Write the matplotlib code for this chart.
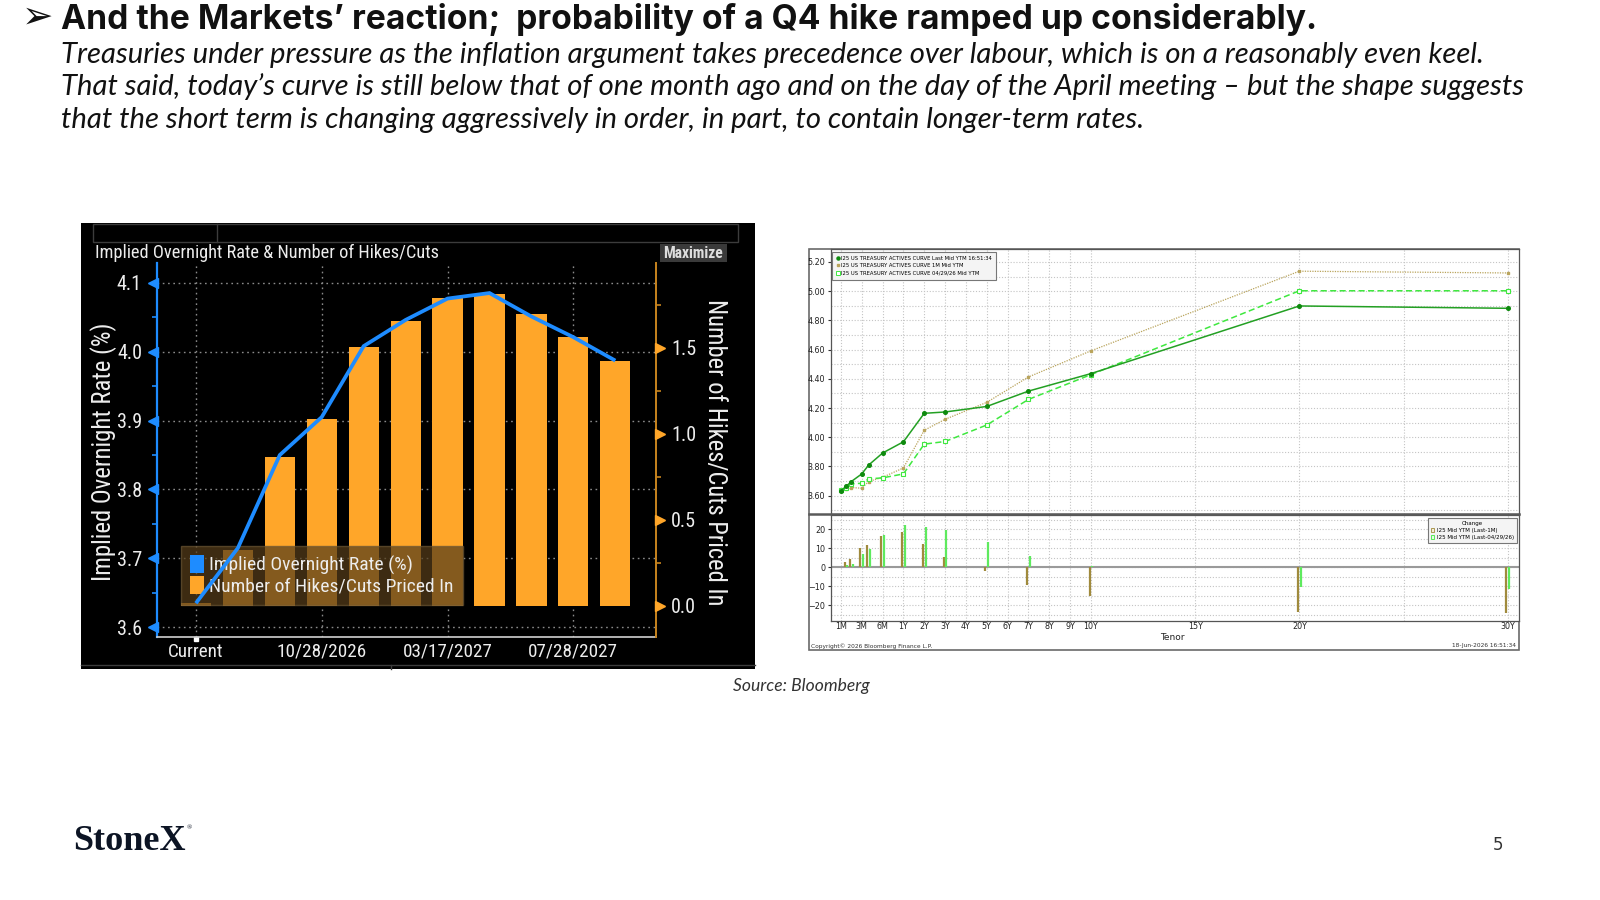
import numpy as np
import matplotlib
matplotlib.use("Agg")
import matplotlib.pyplot as plt
from matplotlib import font_manager as fm
from matplotlib.patches import Rectangle, Patch
from matplotlib.lines import Line2D
from matplotlib.transforms import offset_copy
from matplotlib.ticker import FixedLocator, MultipleLocator, FuncFormatter

# ---------------- data: left chart (implied policy path) ----------------
meetings = ["Current", "07/29/2026", "09/16/2026", "10/28/2026", "12/09/2026",
            "01/27/2027", "03/17/2027", "04/28/2027", "06/09/2027", "07/28/2027",
            "09/22/2027"]
meeting_tick_idx = [0, 3, 6, 9]
implied_rate = [3.635, 3.715, 3.850, 3.905, 4.008, 4.046, 4.077, 4.085, 4.051, 4.021, 3.987]
hikes_priced = [0.015, 0.324, 0.863, 1.087, 1.502, 1.655, 1.790, 1.814, 1.698, 1.560, 1.421]
left_yticks = [3.6, 3.7, 3.8, 3.9, 4.0, 4.1]
right_yticks = [0.0, 0.5, 1.0, 1.5]

# ---------------- data: right chart (UST curve) ----------------
tenor_years = [1/12, 1.5/12, 2/12, 3/12, 4/12, 6/12, 1, 2, 3, 5, 7, 10, 20, 30]
yld_last = [3.635, 3.663, 3.697, 3.749, 3.810, 3.892, 3.969, 4.164, 4.173, 4.211, 4.316, 4.436, 4.899, 4.883]
yld_1m = [3.637, 3.643, 3.656, 3.651, 3.697, 3.726, 3.790, 4.048, 4.123, 4.239, 4.413, 4.592, 5.137, 5.125]
yld_apr = [3.636, 3.653, 3.681, 3.685, 3.715, 3.722, 3.749, 3.953, 3.971, 4.084, 4.259, 4.429, 5.003, 5.003]
chg_vs_1m = [0, 2.4, 4.1, 10.0, 11.4, 16.6, 18.3, 11.9, 5.2, -1.9, -9.4, -15.2, -23.5, -24.0]
chg_vs_apr = [0, 1.0, 1.7, 6.7, 9.3, 17.1, 22.2, 20.9, 19.7, 13.1, 6.0, 0.6, -10.7, -11.8]
tenor_tick_years = [1/12, 0.25, 0.5, 1, 2, 3, 4, 5, 6, 7, 8, 9, 10, 15, 20, 30]
tenor_tick_labels = ["1M", "3M", "6M", "1Y", "2Y", "3Y", "4Y", "5Y", "6Y", "7Y", "8Y", "9Y",
                     "10Y", "15Y", "20Y", "30Y"]
curve_yticks = [3.6, 3.8, 4.0, 4.2, 4.4, 4.6, 4.8, 5.0, 5.2]
chg_yticks = [-20, -10, 0, 10, 20]

# ---------------- texts ----------------
title = "And the Markets\u2019 reaction;  probability of a Q4 hike ramped up considerably."
sub_lines = [
    "Treasuries under pressure as the inflation argument takes precedence over labour, which is on a reasonably even keel.",
    "That said, today\u2019s curve is still below that of one month ago and on the day of the April meeting \u2013 but the shape suggests",
    "that the short term is changing aggressively in order, in part, to contain longer-term rates.",
]

# ---------------- fonts ----------------
names = {f.name for f in fm.fontManager.ttflist}
def pick(*cands):
    for c in cands:
        if c in names:
            return c
    return "DejaVu Sans"
BB = pick("Liberation Sans Narrow", "Roboto Condensed", "DejaVu Sans")
TITLE_F = pick("Inter", "Roboto", "DejaVu Sans")
BODY_F = pick("Lato", "Open Sans", "Noto Sans", "DejaVu Sans")
SERIF_F = pick("Liberation Serif", "DejaVu Serif")
SMALL_F = "DejaVu Sans"

W, H = 1600, 900
fig = plt.figure(figsize=(16, 9), dpi=100)
fig.patch.set_facecolor("white")
R = fig.canvas.get_renderer()

def rect(x0, y0, x1, y1):
    return [x0 / W, 1 - y1 / H, (x1 - x0) / W, (y1 - y0) / H]

def txt(x, y, s, **kw):
    return fig.text(x / W, 1 - y / H, s, **kw)

def fit_w(t, w):
    bb = t.get_window_extent(R)
    t.set_fontsize(t.get_fontsize() * w / bb.width)
    return t.get_fontsize()

def fit_h(t, h):
    bb = t.get_window_extent(R)
    t.set_fontsize(t.get_fontsize() * h / bb.height)
    return t.get_fontsize()

# ---------------- header ----------------
txt(37.5, 18, "\u27a2", fontsize=27, ha="center", va="center", color="#111111",
    family="DejaVu Sans")
t = txt(61, 28.5, title, fontsize=24, fontweight="bold", family=TITLE_F,
        ha="left", va="baseline", color="#111111")
fit_w(t, 1257)
s2 = txt(61, 95.5, sub_lines[1], fontsize=18, style="italic", family=BODY_F,
         ha="left", va="baseline", color="#111111")
fs_sub = fit_w(s2, 1466)
txt(61, 62.5, sub_lines[0], fontsize=fs_sub, style="italic", family=BODY_F,
    ha="left", va="baseline", color="#111111")
txt(61, 128, sub_lines[2], fontsize=fs_sub, style="italic", family=BODY_F,
    ha="left", va="baseline", color="#111111")

# ---------------- left chart: Bloomberg panel ----------------
BLUE = "#1E8CFF"
ORANGE = "#FFA629"
WHITE = "#EDEDED"
fig.add_artist(Rectangle((81 / W, 1 - 669 / H), (755 - 81) / W, (669 - 223) / H,
                         transform=fig.transFigure, facecolor="black",
                         edgecolor="none", zorder=0))
fig.add_artist(Rectangle((93 / W, 1 - 242 / H), (738 - 93) / W, (242 - 224) / H,
                         transform=fig.transFigure, facecolor="none",
                         edgecolor="#3c3c3c", lw=1.0, zorder=1))
fig.add_artist(Line2D([217 / W, 217 / W], [1 - 224 / H, 1 - 242 / H],
                      transform=fig.transFigure, color="#3c3c3c", lw=1.0, zorder=1))
fig.add_artist(Line2D([81 / W, 755 / W], [1 - 665 / H, 1 - 665 / H],
                      transform=fig.transFigure, color="#3c3c3c", lw=1.0, zorder=1))
fig.add_artist(Line2D([391 / W, 391 / W], [1 - 665 / H, 1 - 669 / H],
                      transform=fig.transFigure, color="#3c3c3c", lw=1.0, zorder=1))

ct = txt(95, 253, "Implied Overnight Rate & Number of Hikes/Cuts", fontsize=11,
         family=BB, color=WHITE, ha="left", va="center", zorder=3)
fit_w(ct, 343)
fig.add_artist(Rectangle((660 / W, 1 - 262 / H), (727 - 660) / W, (262 - 244) / H,
                         transform=fig.transFigure, facecolor="#3a3a3a",
                         edgecolor="none", zorder=2))
mt = txt(693.5, 253, "Maximize", fontsize=9, family=BB, fontweight="bold",
         color="#dddddd", ha="center", va="center", zorder=3)
fit_w(mt, 60)

x_idx = np.arange(len(meetings))
ax = fig.add_axes(rect(157.3, 263, 656, 637))
ax.set_facecolor("black")
ax2 = ax.twinx()
ax2.patch.set_visible(False)

ax2.bar(x_idx, hikes_priced, width=0.72, color=ORANGE, zorder=2)
ax2.plot(x_idx, implied_rate, color=BLUE, lw=2.7, transform=ax.transData,
         solid_capstyle="butt", solid_joinstyle="miter", zorder=6)

ax.set_xlim(-0.92, 10.97)
ax.set_ylim(3.586, 4.1286)
ax2.set_ylim(-0.182, 1.992)

ax.set_yticks(left_yticks)
ax.set_yticklabels([f"{v:.1f}" for v in left_yticks])
ax.yaxis.set_minor_locator(MultipleLocator(0.05))
ax2.set_yticks(right_yticks)
ax2.set_yticklabels([f"{v:.1f}" for v in right_yticks])
ax2.yaxis.set_minor_locator(MultipleLocator(0.25))
ax.set_xticks([x_idx[i] for i in meeting_tick_idx])
ax.set_xticklabels([meetings[i] for i in meeting_tick_idx])

for a in (ax, ax2):
    for sp in a.spines.values():
        sp.set_visible(False)
ax.spines["left"].set_visible(True)
ax.spines["left"].set_color(BLUE)
ax.spines["left"].set_linewidth(1.6)
ax.spines["bottom"].set_visible(True)
ax.spines["bottom"].set_color("#d0d0d0")
ax.spines["bottom"].set_linewidth(1.2)
ax2.spines["right"].set_visible(True)
ax2.spines["right"].set_color("#C8841E")
ax2.spines["right"].set_linewidth(1.4)

ax.tick_params(axis="y", which="major", length=0, pad=11, labelsize=14.5,
               labelcolor=WHITE)
ax.tick_params(axis="y", which="minor", length=3.5, width=1.2, color=BLUE, direction="out")
ax2.tick_params(axis="y", which="major", length=0, pad=11, labelsize=14.5,
                labelcolor=WHITE)
ax2.tick_params(axis="y", which="minor", length=3.5, width=1.2, color="#C8841E",
                direction="out")
ax.tick_params(axis="x", length=0, pad=4, labelsize=13.8, labelcolor=WHITE)
for lab in ax.get_yticklabels() + ax2.get_yticklabels() + ax.get_xticklabels():
    lab.set_family(BB)

# tick arrows
ax.plot(np.zeros(len(left_yticks)), left_yticks, ls="none", marker="<", ms=6.5,
        color=BLUE, clip_on=False, zorder=7,
        transform=offset_copy(ax.get_yaxis_transform(), fig=fig, x=-4, units="dots"))
ax2.plot(np.ones(len(right_yticks)), right_yticks, ls="none", marker=">", ms=6.5,
         color=ORANGE, clip_on=False, zorder=7,
         transform=offset_copy(ax2.get_yaxis_transform(), fig=fig, x=4, units="dots"))
ax.plot([0], [0], ls="none", marker="s", ms=2.5, color="white", clip_on=False,
        transform=offset_copy(ax.get_xaxis_transform(), fig=fig, x=0, y=-2, units="dots"))

ax.grid(True, which="major", axis="both", color="#8a8a8a", lw=1.0,
        linestyle=(0, (1.2, 2.6)))
ax.set_axisbelow(True)

# legend
tmp = txt(0, 0, "Implied Overnight Rate (%)", fontsize=10, family=BB)
lf = fit_w(tmp, 202)
tmp.remove()
leg_handles = [Patch(facecolor=BLUE, edgecolor="none", label="Implied Overnight Rate (%)"),
               Patch(facecolor=ORANGE, edgecolor="none", label="Number of Hikes/Cuts Priced In")]
leg = ax2.legend(handles=leg_handles, loc="upper left",
                 bbox_to_anchor=(181 / W, 1 - 546 / H), bbox_transform=fig.transFigure,
                 borderaxespad=0, frameon=True, fancybox=False, framealpha=0.72,
                 facecolor="#553D1A", edgecolor="#6b5634",
                 prop=dict(family=BB, size=lf), handlelength=0.75, handleheight=1.05,
                 handletextpad=0.25, borderpad=0.45, labelspacing=0.08)
for tt in leg.get_texts():
    tt.set_color(WHITE)
leg.set_zorder(5)

yl = txt(104, 452, "Implied Overnight Rate (%)", fontsize=13, family=BB, color=WHITE,
         rotation=90, ha="center", va="center")
fit_h(yl, 257)
yr = txt(715, 452, "Number of Hikes/Cuts Priced In", fontsize=13, family=BB, color=WHITE,
         rotation=270, ha="center", va="center")
fit_h(yr, 305)

# ---------------- right chart: UST curve ----------------
fig.add_artist(Rectangle((809 / W, 1 - 650 / H), (1519 - 809) / W, (650 - 249) / H,
                         transform=fig.transFigure, facecolor="white",
                         edgecolor="#6a6a6a", lw=1.2, zorder=0))

_t = np.array([0.0, 1 / 12, 0.25, 0.5, 1.0, 200.0])
_s = np.array([-4.0, -3.0, -2.0, -1.0, 0.0, 199.0])
def fwd(v):
    return np.interp(np.asarray(v, dtype=float), _t, _s)
def inv(v):
    return np.interp(np.asarray(v, dtype=float), _s, _t)

axT = fig.add_axes(rect(830.7, 249, 1519, 513.5))
axB = fig.add_axes(rect(830.7, 515, 1519, 621))
for a in (axT, axB):
    a.set_xscale("function", functions=(fwd, inv))
    a.set_xlim(float(inv(-3.49)), float(inv(29.54)))
    a.xaxis.set_major_locator(FixedLocator(tenor_tick_years))
    a.xaxis.set_minor_locator(FixedLocator([25]))
    a.set_facecolor("white")
    for sp in a.spines.values():
        sp.set_color("#555555")
        sp.set_linewidth(0.9)
    a.grid(True, which="both", axis="both", color="#c4c4c4", lw=0.8,
           linestyle=(0, (1, 1.6)))
    a.set_axisbelow(True)

axT.plot(tenor_years, yld_1m, color="#B9A45C", lw=0.9, ls=(0, (1, 1)), marker="s",
         ms=1.8, zorder=3, label="I25 US TREASURY ACTIVES CURVE 1M Mid YTM")
axT.plot(tenor_years, yld_apr, color="#3FE83F", lw=1.1, ls=(0, (4, 2.2)), marker="s",
         ms=3.0, mfc="white", mew=0.8, zorder=3,
         label="I25 US TREASURY ACTIVES CURVE 04/29/26 Mid YTM")
axT.plot(tenor_years, yld_last, color="#23A023", lw=1.1, marker="o", ms=2.6,
         mfc="#0E8A0E", mec="#0E8A0E", zorder=4,
         label="I25 US TREASURY ACTIVES CURVE Last Mid YTM 16:51:34")
axT.set_ylim(3.478, 5.289)
axT.set_yticks(curve_yticks)
axT.yaxis.set_major_formatter(FuncFormatter(lambda v, p: f"{v:.2f}"))
axT.yaxis.set_minor_locator(MultipleLocator(0.1))
axT.tick_params(axis="x", which="both", length=0, labelbottom=False)
axT.tick_params(axis="y", which="major", length=2.5, width=0.8, color="#333333",
                labelsize=5.8, labelcolor="#222222", pad=1.5)
axT.tick_params(axis="y", which="minor", length=0)

axB.vlines(tenor_years, 0, chg_vs_1m, colors="#A08A3C", lw=1.6, zorder=3,
           transform=offset_copy(axB.transData, fig=fig, x=-1.3, units="dots"))
axB.vlines(tenor_years, 0, chg_vs_apr, colors="#5EEA5E", lw=1.6, zorder=3,
           transform=offset_copy(axB.transData, fig=fig, x=1.3, units="dots"))
axB.axhline(0, color="#9a9a9a", lw=1.5, zorder=2)
axB.set_ylim(-28.4, 27.4)
axB.set_yticks(chg_yticks)
axB.yaxis.set_minor_locator(MultipleLocator(5))
axB.set_xticklabels(tenor_tick_labels)
axB.tick_params(axis="x", which="major", length=0, labelsize=5.8,
                labelcolor="#222222", pad=1.0)
axB.tick_params(axis="x", which="minor", length=0)
axB.tick_params(axis="y", which="major", length=2.5, width=0.8, color="#333333",
                labelsize=5.8, labelcolor="#222222", pad=1.5)
axB.tick_params(axis="y", which="minor", length=0)

fig.add_artist(Line2D([809 / W, 1519 / W], [1 - 514.2 / H, 1 - 514.2 / H],
                      transform=fig.transFigure, color="#5a5a5a", lw=1.8, zorder=5))

# legends of right chart
tmp = txt(0, 0, "I25 US TREASURY ACTIVES CURVE Last Mid YTM 16:51:34", fontsize=5,
          family=SMALL_F)
sf = fit_w(tmp, 150)
tmp.remove()
hT, lT = axT.get_legend_handles_labels()
order = [2, 0, 1]
legT_h = [Line2D([], [], ls="none", marker="o", ms=2.2, color="#0E8A0E"),
          Line2D([], [], ls="none", marker="s", ms=2.0, color="#B9A45C"),
          Line2D([], [], ls="none", marker="s", ms=2.4, mfc="white", mec="#3FE83F", mew=0.7)]
legT = axT.legend(legT_h, [lT[i] for i in order], loc="upper left",
                  bbox_to_anchor=(832 / W, 1 - 251.5 / H), bbox_transform=fig.transFigure,
                  borderaxespad=0, prop=dict(family=SMALL_F, size=sf), frameon=True,
                  fancybox=False, facecolor="#f4f4f4", edgecolor="#777777", framealpha=1,
                  handlelength=0.6, handletextpad=0.4, borderpad=0.8, labelspacing=0.45)
legT.get_frame().set_linewidth(0.8)

legB_h = [Patch(facecolor="#f3efd8", edgecolor="#A08A3C", lw=0.6),
          Patch(facecolor="#e6fbe6", edgecolor="#3FE83F", lw=0.6)]
legB = axB.legend(legB_h, ["I25 Mid YTM (Last-1M)", "I25 Mid YTM (Last-04/29/26)"],
                  title="Change", loc="upper right",
                  bbox_to_anchor=(1517 / W, 1 - 518 / H), bbox_transform=fig.transFigure,
                  borderaxespad=0, prop=dict(family=SMALL_F, size=sf * 1.05),
                  title_fontproperties=dict(family=SMALL_F, size=sf * 1.05),
                  frameon=True, fancybox=False, facecolor="#f4f4f4", edgecolor="#777777",
                  framealpha=1, handlelength=0.6, handleheight=0.8, handletextpad=0.4,
                  borderpad=0.6, labelspacing=0.3)
legB.get_frame().set_linewidth(0.8)

txt(1172, 637, "Tenor", fontsize=6.5, family=SMALL_F, color="#222222",
    ha="center", va="center")
txt(811, 646, "Copyright\u00a9 2026 Bloomberg Finance L.P.", fontsize=4.2, family=SMALL_F,
    color="#333333", ha="left", va="center")
txt(1516, 646, "18-Jun-2026 16:51:34", fontsize=4.2, family=SMALL_F,
    color="#333333", ha="right", va="center")

# ---------------- footer ----------------
src = txt(801, 686, "Source: Bloomberg", fontsize=11, style="italic", family=BODY_F,
          color="#333333", ha="center", va="center")
fit_w(src, 136)
logo = txt(73.5, 850, "StoneX", fontsize=24, family=SERIF_F, fontweight="bold",
           color="#0c1424", ha="left", va="baseline")
fit_w(logo, 113)
txt(189, 828, "\u00ae", fontsize=5, family=SERIF_F, color="#0c1424",
    ha="center", va="center")
txt(1498, 845, "5", fontsize=12, family="DejaVu Sans", color="#333333",
    ha="center", va="center")

fig.savefig("out.png", dpi=100, facecolor="white")
